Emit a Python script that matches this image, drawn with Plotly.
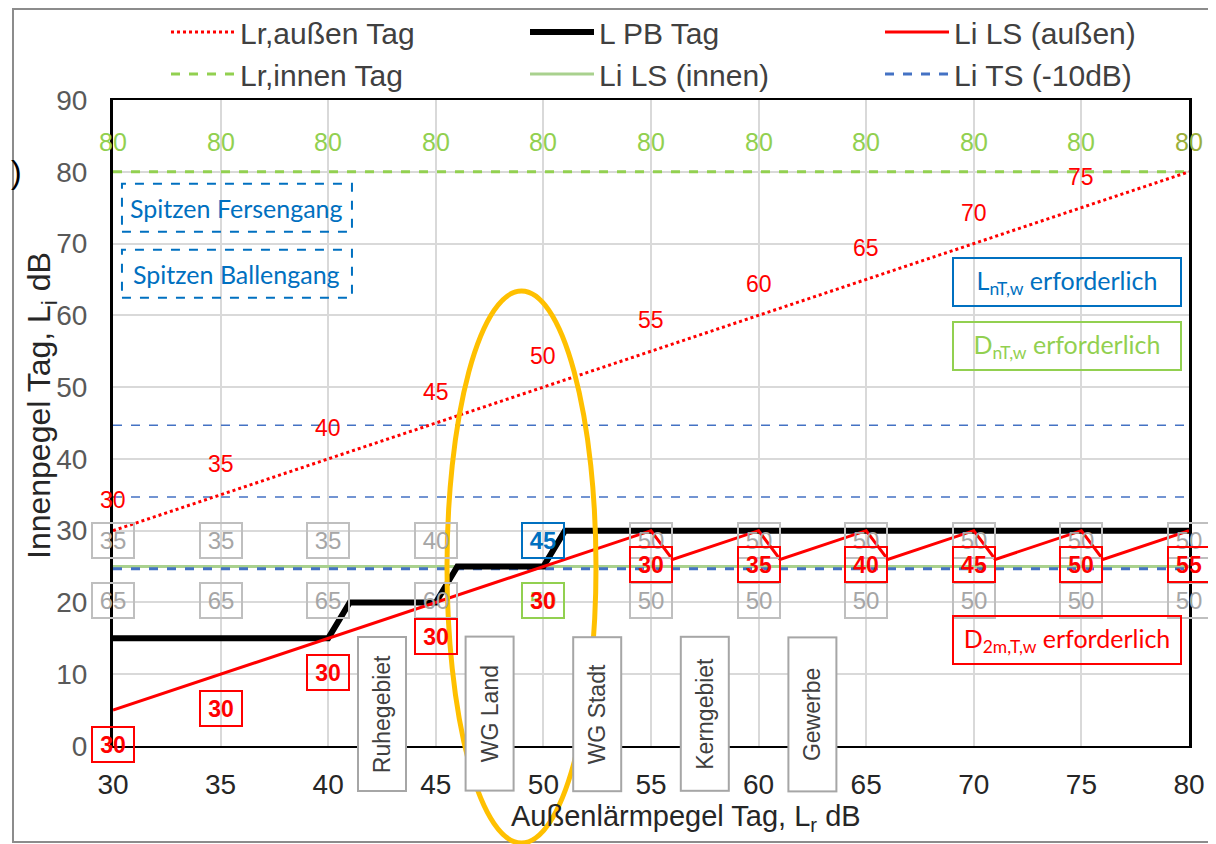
import numpy as np
import plotly.graph_objects as go

# Außenlärmpegel (x) in 5-dB-Schritten
lr_tick = [30, 35, 40, 45, 50, 55, 60, 65, 70, 75, 80]
lr_aussen = [30, 35, 40, 45, 50, 55, 60, 65, 70, 75, 80]
lr_innen = [80, 80, 80, 80, 80, 80, 80, 80, 80, 80, 80]

# L PB Tag (Treppe)
pb_x = [30, 40, 41, 45, 46, 50, 51, 80]
pb_y = [15, 15, 20, 20, 25, 25, 30, 30]

# Li LS (außen), Sägezahn
ls_aussen_x = [30, 55, 56, 60, 61, 65, 66, 70, 71, 75, 76, 80]
ls_aussen_y = [5, 30, 26, 30, 26, 30, 26, 30, 26, 30, 26, 30]

ls_innen_x = [30, 80]
ls_innen_y = [25, 25]

ts_x = [30, 80]
ts_y = [24.7, 24.7]
ts_ballen = [34.7, 34.7]
ts_fersen = [44.7, 44.7]

# erforderliche Werte je Stützstelle
lnt_req = [35, 35, 35, 40, 45, 50, 50, 50, 50, 50, 50]
dnt_req = [65, 65, 65, 60, 50, 50, 50, 50, 50, 50, 50]
d2m_req = [30, 30, 30, 30, 30, 30, 35, 40, 45, 50, 55]

gebiete = ["Ruhegebiet", "WG Land", "WG Stadt", "Kerngebiet", "Gewerbe"]
gebiete_x = [42.5, 47.5, 52.5, 57.5, 62.5]

RED = "#FF0000"
GREEN = "#92D050"
LGREEN = "#A9D18E"
BLUE = "#4472C4"
TBLUE = "#0070C0"
GRAY = "#A6A6A6"
FONT = "Arial, Liberation Sans, sans-serif"
CAL = "Lato, sans-serif"

# plot area in page pixels (page body has an 8px margin)
OFF = 8
W, H = 1216 - OFF, 844 - OFF
L, R, T, B = 113, 1189, 100, 746


def px(x):
    return (x - L) / (R - L)


def py(y):
    return (B - y) / (B - T)


fig = go.Figure()

fig.add_trace(go.Scatter(x=ls_innen_x, y=ls_innen_y, mode="lines", name="Li LS (innen)",
                         line=dict(color=LGREEN, width=3), legend="legend2", legendgroup="g5"))
fig.add_trace(go.Scatter(x=ts_x, y=ts_y, mode="lines", name="Li TS (-10dB)",
                         line=dict(color=BLUE, width=3, dash="dash"), legend="legend3", legendgroup="g6"))
for yy in (ts_ballen, ts_fersen):
    fig.add_trace(go.Scatter(x=ts_x, y=yy, mode="lines", showlegend=False,
                             line=dict(color=BLUE, width=1.5, dash="dash")))
fig.add_trace(go.Scatter(x=lr_tick, y=lr_innen, mode="lines", name="Lr,innen Tag",
                         line=dict(color=GREEN, width=3, dash="dash"), legend="legend", legendgroup="g4"))
fig.add_trace(go.Scatter(x=lr_tick, y=lr_aussen, mode="lines", name="Lr,außen Tag",
                         line=dict(color=RED, width=3, dash="dot"), legend="legend", legendgroup="g1",
                         legendrank=1))
fig.add_trace(go.Scatter(x=pb_x, y=pb_y, mode="lines", name="L PB Tag",
                         line=dict(color="black", width=6), legend="legend2", legendgroup="g2",
                         legendrank=1))
fig.add_trace(go.Scatter(x=ls_aussen_x, y=ls_aussen_y, mode="lines", name="Li LS (außen)",
                         line=dict(color=RED, width=3), legend="legend3", legendgroup="g3",
                         legendrank=1))

ann = []
# Beschriftung Lr außen
for x, v in zip(lr_tick[:-1], lr_aussen[:-1]):
    ann.append(dict(x=x, y=v, yshift=31, text=str(v), showarrow=False,
                    font=dict(family=FONT, size=23, color=RED)))
# Beschriftung Lr innen
for i, (x, v) in enumerate(zip(lr_tick, lr_innen)):
    ann.append(dict(x=x, y=v, yshift=30, text=str(v), showarrow=False,
                    font=dict(family=FONT, size=25, color="#9BAF3C" if i == len(lr_tick) - 1 else GREEN)))

hl = lr_tick.index(50)
box = dict(showarrow=False, width=38, height=31, borderpad=1, borderwidth=2)
for i, (x, v) in enumerate(zip(lr_tick, lnt_req)):
    c = TBLUE if i == hl else "#BFBFBF"
    ann.append(dict(box, x=x, y=28.7, text=("<b>%d</b>" % v) if i == hl else str(v), bordercolor=c,
                    font=dict(family=FONT, size=24, color=TBLUE if i == hl else GRAY)))
for i, (x, v) in enumerate(zip(lr_tick, dnt_req)):
    c = GREEN if i == hl else "#BFBFBF"
    ann.append(dict(box, x=x, y=20.3, text=str(v), bordercolor=c,
                    font=dict(family=FONT, size=24, color=GREEN if i == hl else GRAY)))
li_at = np.interp(lr_tick, ls_aussen_x, ls_aussen_y)
for i, (x, v) in enumerate(zip(lr_tick, d2m_req)):
    ann.append(dict(box, x=x, y=li_at[i] - 5, yshift=2, text="<b>%d</b>" % v,
                    bordercolor="rgba(0,0,0,0)" if i == hl else RED,
                    font=dict(family=FONT, size=23, color=RED)))

# Gebietskategorien
for g, x in zip(gebiete, gebiete_x):
    ann.append(dict(x=x, y=py(714), yref="paper", xanchor="center", yanchor="middle", text=g,
                    textangle=-90, showarrow=False, width=150, height=44, bgcolor="white",
                    bordercolor=GRAY, borderwidth=2, borderpad=1,
                    font=dict(family=FONT, size=23, color="#404040")))

# Textkästen rechts
rbox = dict(showarrow=False, width=224, height=44, borderpad=1, borderwidth=2, x=74.33)
ann.append(dict(rbox, y=64.6, text="L<sub>nT,w</sub> erforderlich", bordercolor=TBLUE,
                font=dict(family=CAL, size=25, color=TBLUE)))
ann.append(dict(rbox, y=55.7, text="D<sub>nT,w</sub> erforderlich", bordercolor=GREEN,
                font=dict(family=CAL, size=25, color=GREEN)))
ann.append(dict(rbox, y=14.8, text="D<sub>2m,T,w</sub> erforderlich", bordercolor=RED,
                font=dict(family=CAL, size=25, color=RED)))

shapes = []
for txt, yy in (("Spitzen Fersengang", 75.0), ("Spitzen Ballengang", 65.8)):
    ann.append(dict(x=35.76, y=yy, text=txt, showarrow=False,
                    font=dict(family=CAL, size=25, color=TBLUE)))
    shapes.append(dict(type="rect", xref="x", yref="y", xsizemode="pixel", ysizemode="pixel",
                       xanchor=35.76, yanchor=yy, x0=-115, x1=115, y0=-24, y1=24,
                       line=dict(color=TBLUE, width=2, dash="dash")))

# Achsentitel
ann.append(dict(x=px(686), y=py(818), xref="paper", yref="paper", xanchor="center", yanchor="middle",
                showarrow=False, text="Außenlärmpegel Tag, L<sub>r</sub> dB",
                font=dict(family=FONT, size=29, color="#262626")))
ann.append(dict(x=px(41), y=py(406), xref="paper", yref="paper", xanchor="center", yanchor="middle",
                showarrow=False, textangle=-90, text="Innenpegel Tag, L<sub>i</sub> dB",
                font=dict(family=FONT, size=32, color="#262626")))
ann.append(dict(x=px(9), y=py(172), xref="paper", yref="paper", xanchor="left", yanchor="middle",
                showarrow=False, text=")", font=dict(family=FONT, size=32, color="black")))

# Ellipse und Rahmen
shapes.append(dict(type="circle", xref="paper", yref="paper", x0=px(447), x1=px(596), y0=py(843), y1=py(291),
                   line=dict(color="#FFC000", width=5)))
shapes.append(dict(type="rect", xref="paper", yref="paper", x0=px(13), x1=px(1212), y0=py(842), y1=py(9),
                   line=dict(color="#8C8C8C", width=2), layer="below"))

leg = dict(orientation="v", xanchor="left", yanchor="middle", y=py(53), tracegroupgap=0,
           itemwidth=64, font=dict(family=FONT, size=30, color="#404040"), bgcolor="rgba(0,0,0,0)")

fig.update_layout(
    width=W, height=H,
    margin=dict(l=L - OFF, r=W - (R - OFF), t=T - OFF, b=H - (B - OFF), autoexpand=False),
    paper_bgcolor="white", plot_bgcolor="white",
    showlegend=True,
    legend=dict(leg, x=px(166)),
    legend2=dict(leg, x=px(525)),
    legend3=dict(leg, x=px(880)),
    xaxis=dict(range=[30, 80], tickvals=lr_tick, showgrid=True, gridcolor="#D9D9D9", gridwidth=2,
               showline=True, linecolor="black", linewidth=2, mirror=True, zeroline=False,
               ticks="", ticklabelstandoff=12, tickfont=dict(family=FONT, size=28, color="#262626")),
    yaxis=dict(range=[0, 90], dtick=10, showgrid=True, gridcolor="#D9D9D9", gridwidth=2,
               showline=True, linecolor="black", linewidth=3, mirror=True, zeroline=False,
               ticks="", ticklabelstandoff=17, tickfont=dict(family=FONT, size=28, color="#595959")),
    annotations=ann,
    shapes=shapes,
)

fig.write_html("out.html")
